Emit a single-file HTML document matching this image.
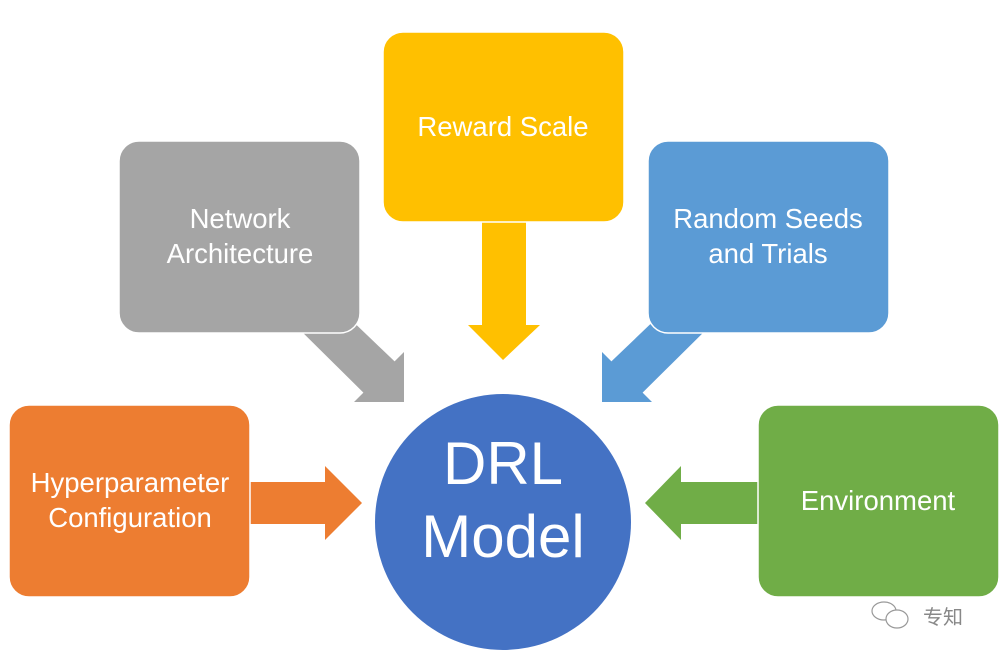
<!DOCTYPE html>
<html><head><meta charset="utf-8"><style>
html,body{margin:0;padding:0;background:#fff;}
svg{display:block;}
text{font-family:"Liberation Sans",sans-serif;fill:#fff;text-anchor:middle;}
</style></head><body>
<svg width="1000" height="660" viewBox="0 0 1000 660">
<polygon points="482,220 526,220 526,325 540,325 503,360 468,325 482,325" fill="#FFC000"/>
<polygon points="290,320 320,290 394.6,361.4 404,352 404,402 354,402 363.4,392.6" fill="#A5A5A5"/>
<polygon points="716,320 686,290 611.4,361.4 602,352 602,402 652,402 642.6,392.6" fill="#5B9BD5"/>
<polygon points="245,482 325,482 325,466 362,503 325,540 325,524 245,524" fill="#ED7D31"/>
<polygon points="761,482 681,482 681,466 645,503 681,540 681,524 761,524" fill="#70AD47"/>
<rect x="383" y="32" width="241" height="190" rx="20" fill="#FFC000" stroke="#fff" stroke-width="1.5"/>
<rect x="119" y="141" width="241" height="192" rx="20" fill="#A5A5A5" stroke="#fff" stroke-width="1.5"/>
<rect x="648" y="141" width="241" height="192" rx="20" fill="#5B9BD5" stroke="#fff" stroke-width="1.5"/>
<rect x="9" y="405" width="241" height="192" rx="20" fill="#ED7D31" stroke="#fff" stroke-width="1.5"/>
<rect x="758" y="405" width="241" height="192" rx="20" fill="#70AD47" stroke="#fff" stroke-width="1.5"/>
<circle cx="503" cy="522" r="128" fill="#4472C4"/>
<text x="503" y="136" font-size="27.5">Reward Scale</text>
<text x="240" y="228" font-size="27.5">Network</text>
<text x="240" y="263" font-size="27.5">Architecture</text>
<text x="768" y="228" font-size="27.5">Random Seeds</text>
<text x="768" y="263" font-size="27.5">and Trials</text>
<text x="130" y="492" font-size="27.5">Hyperparameter</text>
<text x="130" y="527" font-size="27.5">Configuration</text>
<text x="878" y="510" font-size="27.5">Environment</text>
<text x="503" y="484" font-size="60">DRL</text>
<text x="503" y="557" font-size="60">Model</text>
<g fill="none" stroke="#999" stroke-width="1.2">
<ellipse cx="884" cy="611" rx="12" ry="9"/>
<ellipse cx="897" cy="619" rx="11" ry="9" fill="#fff"/>
</g>
<text x="943" y="624" font-size="20" style="fill:#888;font-family:'Liberation Sans','Noto Sans CJK SC',sans-serif">专知</text>
</svg>
</body></html>
